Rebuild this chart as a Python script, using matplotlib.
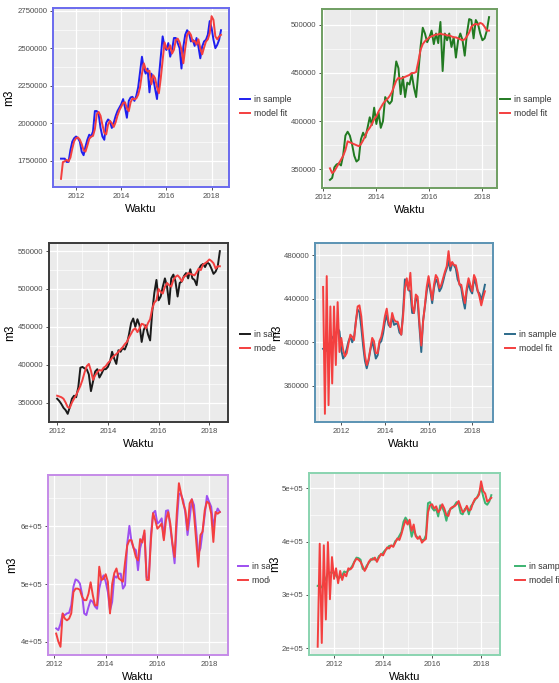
import numpy as np
import matplotlib
matplotlib.use('Agg')
import matplotlib.pyplot as plt
from matplotlib.patches import Rectangle
from matplotlib.ticker import MultipleLocator, FixedLocator

plt.rcParams['font.family'] = ['Liberation Sans', 'DejaVu Sans']

W, H = 559, 683
RED = '#f43f3f'

# monthly values, thousands of m3
p1_start = (2011, 5)
p1_sample = [1763, 1763, 1763, 1741, 1741, 1820, 1877, 1900, 1911, 1900,
             1877, 1809, 1786, 1843, 1889, 1923, 1911, 1945, 2081, 2081,
             2059, 1968, 1911, 1889, 2002, 2025, 2013, 1968, 2002, 2047,
             2081, 2104, 2127, 2161, 2104, 2036, 2149, 2172, 2176, 2149,
             2183, 2240, 2342, 2444, 2365, 2331, 2365, 2206, 2331, 2297,
             2229, 2161, 2308, 2444, 2580, 2512, 2489, 2535, 2444, 2489,
             2569, 2569, 2535, 2501, 2365, 2512, 2591, 2621, 2603, 2546,
             2557, 2516, 2569, 2512, 2433, 2512, 2546, 2557, 2591, 2682,
             2637, 2557, 2501, 2523, 2557, 2621]
p1_fit = [1628, 1740, 1745, 1755, 1745, 1770, 1830, 1880, 1900, 1905,
          1890, 1860, 1820, 1810, 1850, 1895, 1910, 1915, 1960, 2060,
          2075, 2050, 1990, 1935, 1925, 1990, 2015, 2000, 1975, 2005,
          2050, 2085, 2110, 2135, 2140, 2100, 2080, 2140, 2165, 2160,
          2165, 2190, 2240, 2330, 2400, 2360, 2345, 2350, 2260, 2320,
          2300, 2240, 2200, 2300, 2420, 2540, 2500, 2495, 2520, 2465,
          2490, 2555, 2565, 2540, 2490, 2400, 2500, 2590, 2610, 2590,
          2545, 2550, 2525, 2560, 2500, 2460, 2505, 2545, 2560, 2600,
          2715, 2690, 2580, 2560, 2580, 2590]
p1_yticks = [1750000, 2000000, 2250000, 2500000, 2750000]
p1_ylabels = ['1750000', '2000000', '2250000', '2500000', '2750000']

p2_start = (2012, 4)
p2_sample = [339, 341, 352, 355, 356, 354, 365, 385, 389, 385,
             376, 364, 358, 360, 381, 388, 383, 393, 404, 396,
             414, 397, 409, 393, 400, 425, 421, 418, 421, 442,
             462, 455, 428, 446, 425, 440, 438, 449, 435, 425,
             451, 477, 497, 491, 482, 487, 494, 480, 491, 481,
             503, 452, 491, 484, 491, 477, 487, 466, 484, 491,
             484, 468, 491, 506, 505, 486, 505, 501, 491, 484,
             486, 494, 508]
p2_fit = [351, 346, 348, 352, 356, 360, 364, 370, 379, 378,
          377, 376, 375, 374, 376, 380, 385, 390, 393, 397,
          402, 405, 410, 414, 418, 421, 423, 426, 430, 436,
          442, 445, 444, 445, 446, 447, 448, 450, 450, 451,
          462, 474, 480, 483, 485, 487, 488, 489, 490, 490,
          491, 490, 490, 489, 489, 488, 487, 487, 486, 485,
          484, 485, 488, 492, 498, 500, 501, 500, 502, 501,
          498, 494, 494]
p2_yticks = [350000, 400000, 450000, 500000]
p2_ylabels = ['350000', '400000', '450000', '500000']

p3_start = (2012, 1)
p3_sample = [355, 352, 348, 343, 340, 335, 344, 355, 359, 357,
             370, 396, 397, 395, 394, 387, 365, 378, 391, 394,
             383, 388, 394, 394, 397, 404, 417, 408, 401, 419,
             417, 422, 420, 427, 440, 455, 461, 450, 460, 452,
             430, 446, 452, 440, 432, 470, 495, 512, 485, 490,
             503, 514, 503, 480, 514, 519, 510, 490, 508, 510,
             517, 521, 514, 526, 514, 512, 505, 526, 531, 533,
             529, 535, 533, 527, 520, 523, 530, 550]
p3_fit = [359, 358, 357, 355, 350, 344, 343, 350, 355, 360,
          366, 372, 380, 390, 398, 401, 392, 380, 386, 390,
          393, 392, 396, 398, 402, 405, 409, 412, 414, 417,
          420, 423, 427, 430, 436, 441, 446, 448, 443, 448,
          454, 453, 448, 455, 460, 474, 482, 485, 500, 496,
          494, 503, 508, 505, 503, 512, 516, 518, 515, 510,
          516, 518, 521, 520, 519, 518, 522, 527, 525, 532,
          534, 536, 539, 537, 534, 527, 530, 530]
p3_yticks = [350000, 400000, 450000, 500000, 550000]
p3_ylabels = ['350000', '400000', '450000', '500000', '550000']

p4_start = (2011, 3)
p4_sample = [394, 395, 392, 397, 401, 404, 406, 406, 413, 410,
             393, 385, 388, 394, 401, 405, 400, 404, 419, 430,
             428, 414, 397, 383, 376, 383, 393, 401, 394, 385,
             388, 399, 401, 408, 419, 425, 416, 414, 424, 416,
             417, 417, 409, 407, 428, 458, 454, 448, 447, 427,
             427, 441, 438, 414, 391, 420, 433, 447, 457, 447,
             436, 450, 458, 455, 447, 450, 456, 463, 468, 475,
             466, 473, 471, 468, 458, 454, 450, 439, 431, 447,
             455, 448, 445, 458, 454, 447, 445, 439, 445, 453]
p4_fit = [451, 334, 461, 342, 433, 362, 433, 379, 437, 391,
          404, 393, 387, 390, 399, 407, 405, 402, 418, 433,
          434, 424, 405, 388, 379, 384, 394, 404, 401, 390,
          390, 401, 405, 413, 424, 431, 419, 414, 427, 421,
          419, 419, 413, 407, 424, 450, 459, 448, 464, 433,
          427, 444, 442, 418, 397, 419, 434, 451, 461, 450,
          439, 453, 462, 459, 450, 453, 459, 465, 470, 484,
          470, 474, 471, 471, 464, 453, 453, 444, 436, 450,
          459, 453, 447, 462, 458, 448, 442, 434, 441, 447]
p4_yticks = [360000, 400000, 440000, 480000]
p4_ylabels = ['360000', '400000', '440000', '480000']

p5_start = (2012, 2)
p5_sample = [423, 420, 431, 448, 446, 449, 450, 463, 495, 508,
             506, 501, 483, 449, 446, 460, 472, 469, 461, 457,
             492, 508, 515, 504, 486, 454, 469, 514, 511, 518,
             518, 492, 498, 570, 601, 573, 562, 559, 524, 562,
             577, 588, 512, 510, 585, 623, 627, 605, 608, 614,
             579, 627, 628, 599, 568, 536, 605, 657, 655, 645,
             623, 585, 614, 647, 637, 594, 553, 562, 591, 620,
             653, 643, 634, 599, 620, 631, 625]
p5_fit = [414, 400, 391, 449, 440, 437, 440, 449, 486, 492,
          492, 490, 478, 472, 472, 483, 503, 481, 463, 463,
          530, 507, 509, 517, 504, 449, 500, 519, 527, 510,
          507, 504, 538, 567, 576, 576, 562, 547, 541, 578,
          572, 593, 507, 507, 576, 623, 611, 596, 600, 605,
          576, 611, 625, 605, 570, 547, 622, 675, 657, 640,
          628, 594, 640, 647, 622, 576, 530, 585, 591, 628,
          643, 640, 622, 573, 625, 622, 625]
p5_yticks = [400000, 500000, 600000]
p5_ylabels = ['4e+05', '5e+05', '6e+05']

p6_start = (2011, 5)
p6_sample = [317, 316, 314, 324, 331, 341, 342, 342, 341, 336,
             331, 333, 337, 344, 342, 346, 349, 355, 363, 370,
             369, 366, 349, 347, 355, 360, 365, 369, 366, 365,
             373, 375, 379, 384, 387, 392, 392, 392, 401, 404,
             411, 418, 437, 445, 439, 432, 409, 423, 412, 407,
             406, 403, 403, 412, 472, 474, 463, 458, 461, 447,
             468, 464, 455, 439, 456, 461, 463, 468, 474, 470,
             453, 451, 461, 464, 451, 466, 471, 478, 483, 491,
             501, 485, 472, 469, 475, 487]
p6_fit = [203, 396, 210, 393, 254, 399, 292, 371, 330, 350,
          322, 345, 328, 340, 335, 350, 348, 352, 362, 368,
          366, 362, 354, 345, 352, 362, 367, 366, 370, 362,
          370, 377, 374, 382, 389, 387, 393, 390, 398, 406,
          403, 414, 428, 440, 432, 441, 420, 432, 410, 405,
          410, 398, 402, 405, 455, 468, 470, 462, 466, 455,
          460, 470, 462, 450, 448, 462, 465, 466, 470, 476,
          465, 455, 458, 467, 458, 460, 472, 480, 482, 488,
          513, 495, 490, 475, 478, 482]
p6_yticks = [200000, 300000, 400000, 500000]
p6_ylabels = ['2e+05', '3e+05', '4e+05', '5e+05']

x_ticks = [2012, 2014, 2016, 2018]
legend_labels = ['in sample', 'model fit']

fig = plt.figure(figsize=(W / 100, H / 100), dpi=100)


def box(l, t, r, b):
    return [l / W, 1 - b / H, (r - l) / W, (b - t) / H]


def months(start, n):
    y, m = start
    return y + (m - 1) / 12 + np.arange(n) / 12


def panel(rect, start, sample, fit, yticks, ylabels, line_col, edge_col,
          leg_xy, z, show_ylabel=True, ypad=1.5):
    ax = fig.add_axes(box(*rect))
    ax.set_zorder(z)
    t = months(start, len(sample))
    ax.plot(t, np.array(sample) * 1000, color=line_col, lw=1.4,
            label=legend_labels[0])
    ax.plot(t, np.array(fit) * 1000, color=RED, lw=1.4,
            label=legend_labels[1])
    ax.margins(x=0.05, y=0.05)
    ax.set_facecolor('#EBEBEB')
    ax.xaxis.set_major_locator(FixedLocator(x_ticks))
    ax.set_xticklabels([str(v) for v in x_ticks])
    ax.xaxis.set_minor_locator(MultipleLocator(1))
    ax.yaxis.set_major_locator(FixedLocator(yticks))
    ax.set_yticklabels(ylabels)
    ax.yaxis.set_minor_locator(MultipleLocator((yticks[1] - yticks[0]) / 2))
    ax.grid(which='major', color='white', lw=0.9)
    ax.grid(which='minor', color='white', lw=0.45)
    ax.set_axisbelow(True)
    ax.tick_params(which='major', length=2.5, width=0.6, color='#333333',
                   labelsize=5.6, labelcolor='#4D4D4D', pad=1.5)
    ax.tick_params(which='minor', length=0)
    for s in ax.spines.values():
        s.set_color(edge_col)
        s.set_linewidth(1.4)
    ax.set_xlabel('Waktu', fontsize=8, labelpad=3.5)
    if show_ylabel:
        ax.set_ylabel('m3', fontsize=8.5, labelpad=ypad)
    lx, ly = leg_xy
    ax.legend(loc='upper left', bbox_to_anchor=(lx / W, 1 - ly / H),
              bbox_transform=fig.transFigure, frameon=False, fontsize=6.3,
              handlelength=1.1, handletextpad=0.5, labelspacing=0.55,
              borderpad=0, borderaxespad=0, labelcolor='#333333')
    return ax


panel((53, 8, 229, 187), p1_start, p1_sample, p1_fit, p1_yticks, p1_ylabels,
      '#1f1fef', '#6a6aee', (240, 95), 3)
panel((322, 9, 497, 188), p2_start, p2_sample, p2_fit, p2_yticks, p2_ylabels,
      '#217a21', '#6f9e62', (500, 95), 2, show_ylabel=False)
panel((49, 243, 228, 422), p3_start, p3_sample, p3_fit, p3_yticks, p3_ylabels,
      '#1a1a1a', '#3a3a3a', (240, 330), 1)
panel((315, 243, 493, 422), p4_start, p4_sample, p4_fit, p4_yticks, p4_ylabels,
      '#2c6a8a', '#5b93b3', (505, 330), 6, ypad=0.5)
panel((48, 475, 228, 655), p5_start, p5_sample, p5_fit, p5_yticks, p5_ylabels,
      '#9d4ff0', '#c58be8', (238, 562), 1)
panel((309, 473, 500, 655), p6_start, p6_sample, p6_fit, p6_yticks, p6_ylabels,
      '#3cb371', '#8ad4b0', (515, 562), 6, ypad=0.5)

# right-hand screenshots overlap the left legends
for l, t, r, b in [(276, 315, 312, 370), (270, 545, 306, 600)]:
    fig.patches.append(Rectangle((l / W, 1 - b / H), (r - l) / W, (b - t) / H,
                                 transform=fig.transFigure, facecolor='white',
                                 edgecolor='none', zorder=4))

fig.savefig('out.png', dpi=100)
